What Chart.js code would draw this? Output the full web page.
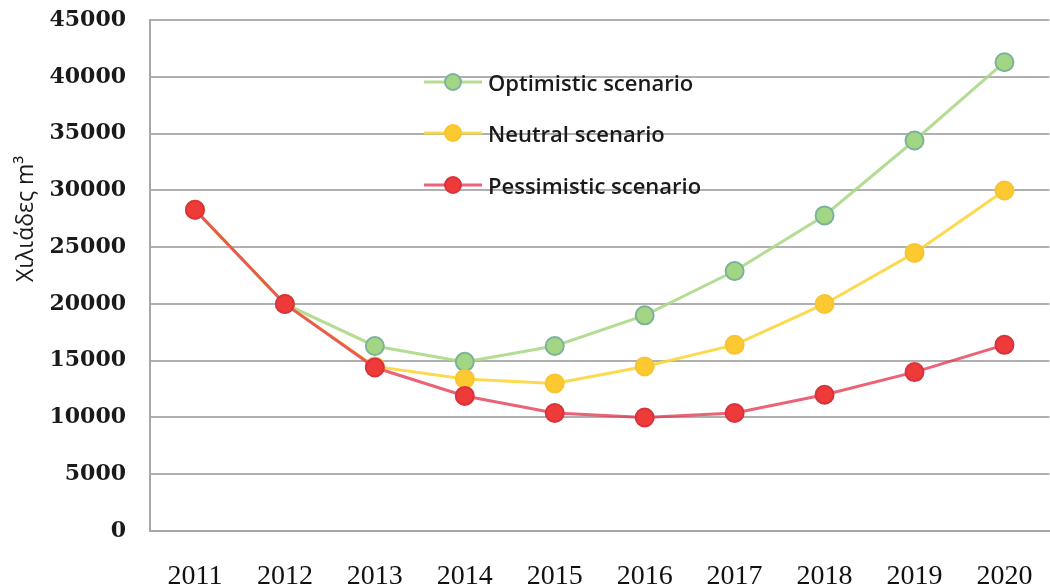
<!DOCTYPE html>
<html lang="el">
<head>
<meta charset="UTF-8">
<title>Scenarios</title>
<script src="https://cdn.jsdelivr.net/npm/chart.js"></script>
<style>
  html, body { margin: 0; padding: 0; background: #fff; overflow: hidden; }
  .wrap { position: relative; width: 1062px; height: 605px; margin-top: -17px; }
  #legend { position: absolute; left: 424px; top: 73px; font-family: "Open Sans", sans-serif; font-size: 22px; font-weight: 600; color: #1a1a1a; }
  #legend .row { display: flex; align-items: center; height: 51.5px; }
  #legend canvas { margin-right: 6px; }
</style>
</head>
<body>
<div class="wrap">
  <canvas id="chart" width="1062" height="605"></canvas>
  <div id="legend"></div>
</div>
<script>
var years = ['2011','2012','2013','2014','2015','2016','2017','2018','2019','2020'];
var optimistic  = [28300, 20000, 16300, 14900, 16300, 19000, 22900, 27800, 34400, 41300];
var neutral     = [28300, 20000, 14500, 13400, 13000, 14500, 16400, 20000, 24500, 30000];
var pessimistic = [28300, 20000, 14400, 11900, 10400, 10000, 10400, 12000, 14000, 16400];
var seriesNames = ['Optimistic scenario', 'Neutral scenario', 'Pessimistic scenario'];
var yTicks = [0, 5000, 10000, 15000, 20000, 25000, 30000, 35000, 40000, 45000];

var lineCols   = ['rgba(172,216,135,0.9)', 'rgba(252,214,60,0.9)', 'rgba(228,55,80,0.78)'];
var fillCols   = ['#a3d683', '#fdc930', '#ef3a3a'];
var borderCols = ['#7bb29c', '#f7c52e', '#d8323f'];

function ds(i, data) {
  return {
    label: seriesNames[i],
    data: data,
    order: 3 - i,
    borderColor: lineCols[i],
    backgroundColor: fillCols[i],
    pointBackgroundColor: fillCols[i],
    pointBorderColor: borderCols[i],
    pointBorderWidth: 2,
    pointRadius: 9,
    borderWidth: 3,
    tension: 0
  };
}

var ctx = document.getElementById('chart').getContext('2d');
new Chart(ctx, {
  type: 'line',
  data: {
    labels: years,
    datasets: [ds(0, optimistic), ds(1, neutral), ds(2, pessimistic)]
  },
  options: {
    responsive: false,
    animation: false,
    layout: { padding: { top: 6, left: 0, right: 0, bottom: 0 } },
    plugins: { legend: { display: false }, tooltip: { enabled: false } },
    scales: {
      x: {
        offset: true,
        grid: { display: false, drawTicks: false },
        border: { color: '#a8a8a8', width: 2 },
        ticks: { padding: 29, color: '#111', font: { family: 'Liberation Serif', size: 28 } },
        afterFit: function (s) { s.height = 57; }
      },
      y: {
        min: 0, max: 45000,
        afterBuildTicks: function (s) { s.ticks = yTicks.map(function (v) { return { value: v }; }); },
        grid: { color: '#b0b0b0', lineWidth: 2, drawTicks: false },
        border: { color: '#a8a8a8', width: 2 },
        ticks: { padding: 24, color: '#1a1a1a', font: { family: 'DejaVu Serif', size: 22, weight: 'bold' },
                 callback: function (v) { return String(v); } },
        title: { display: true, text: '                   Χιλιάδες m³', color: '#1a1a1a', padding: { top: 13, bottom: 0 },
                 font: { family: 'Open Sans', size: 23 } },
        afterFit: function (s) { s.width = 150; }
      }
    }
  }
});

// legend inside plot, built from the series names and colours
var leg = document.getElementById('legend');
seriesNames.forEach(function (name, i) {
  var row = document.createElement('div');
  row.className = 'row';
  var c = document.createElement('canvas');
  c.width = 58; c.height = 24;
  var g = c.getContext('2d');
  g.strokeStyle = lineCols[i]; g.lineWidth = 3;
  g.beginPath(); g.moveTo(0, 12); g.lineTo(58, 12); g.stroke();
  g.fillStyle = fillCols[i]; g.strokeStyle = borderCols[i]; g.lineWidth = 2;
  g.beginPath(); g.arc(29, 12, 8, 0, Math.PI * 2); g.fill(); g.stroke();
  var t = document.createElement('span');
  t.textContent = name;
  row.appendChild(c); row.appendChild(t);
  leg.appendChild(row);
});
</script>
</body>
</html>
